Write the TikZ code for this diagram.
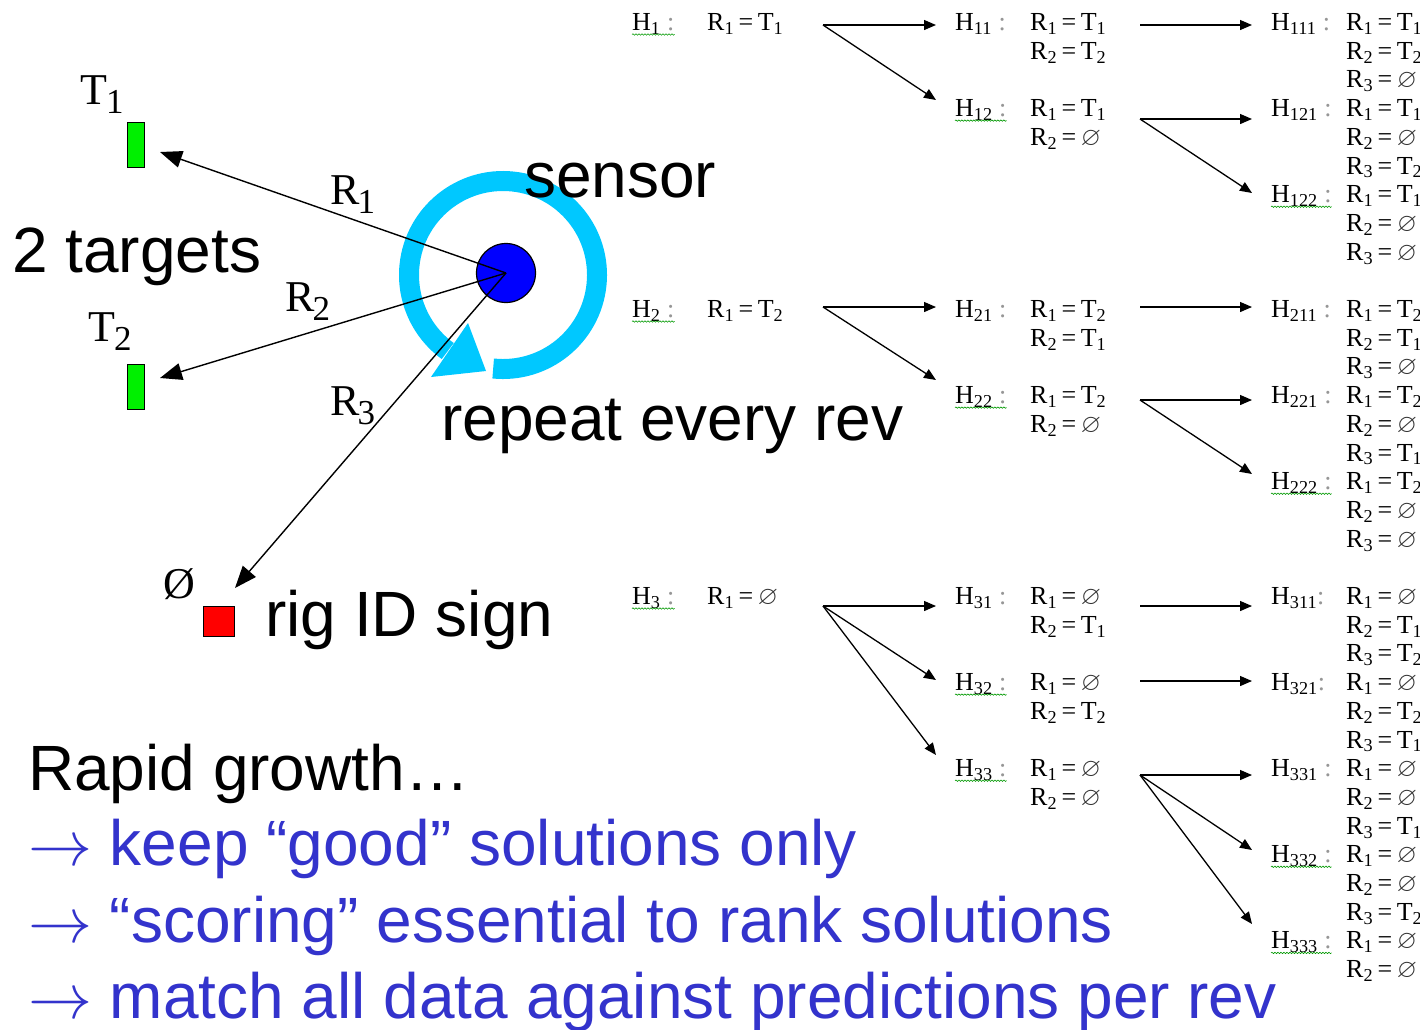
\RequirePackage{fix-cm}
\documentclass[tikz,border=0pt]{standalone}
\usepackage{amssymb}
\usepackage{fontspec}
\setmainfont{Liberation Serif}
\newfontfamily\arialf{Liberation Sans}
\usetikzlibrary{arrows.meta,decorations.pathmorphing}
\definecolor{ringc}{RGB}{0,200,255}
\definecolor{sblue}{RGB}{0,0,255}
\definecolor{tgreen}{RGB}{0,240,0}
\definecolor{btxt}{RGB}{51,51,204}
\definecolor{colgray}{RGB}{150,150,150}
\newcommand{\Rl}[2]{R\textsubscript{#1}\kern4.5pt=\kern4.5pt#2}
\newcommand{\Tl}[1]{T\textsubscript{#1}}
\newcommand{\es}{\textcolor{black!80}{$\varnothing$}}
\newcommand{\Hl}[1]{H\textsubscript{#1}\ \textcolor{colgray}{:}}
\newcommand{\Hn}[1]{H\textsubscript{#1}\textcolor{colgray}{:}}
\newcommand{\bigsub}[1]{\raisebox{-9pt}{\fontsize{35}{38}\selectfont #1}}
\begin{document}
\begin{tikzpicture}[x=1pt,y=-1pt,
  tt/.style={font=\fontsize{26}{28}\selectfont, inner sep=0pt, anchor=base west},
  big/.style={font=\arialf\fontsize{64}{70}\selectfont, inner sep=0pt, anchor=base west},
  lbl/.style={font=\fontsize{44}{48}\selectfont, inner sep=0pt, anchor=base west},
  tarrow/.style={line width=1.3pt, -{Triangle[length=12pt,width=10pt]}},
  barrow/.style={line width=1.4pt, -{Triangle[length=22pt,width=17pt]}},
  squig/.style={decorate, decoration={snake,amplitude=0.7pt,segment length=3pt}, draw=green!60!black, line width=0.6pt},
  tbox/.style={draw=black, line width=1pt, fill=tgreen, minimum width=17pt, minimum height=45pt, inner sep=0pt}
]
\useasboundingbox (0,0) rectangle (1420,1029);
\fill[white] (0,0) rectangle (1420,1029);

% rotating arrow
\coordinate (rc) at (503,275);
\draw[ringc, line width=20pt] ([shift={(96:94)}]rc) arc[start angle=96,end angle=-234,radius=94];
\fill[ringc] (468,323) -- (431,377) -- (486,371) -- cycle;

% sensor and targets
\node[circle, fill=sblue, draw=black, line width=1.2pt, minimum size=59pt, inner sep=0pt] (sensor) at (506,273) {};
\node[tbox] (t1) at (135.5,144.5) {};
\node[tbox] (t2) at (135.5,386.5) {};
\node[draw=black, line width=1pt, fill=red, minimum width=31pt, minimum height=30pt, inner sep=0pt] (rig) at (218.5,621) {};
\coordinate (t1tip) at (160,152);
\coordinate (t2tip) at (160,378);
\coordinate (rigtip) at (235,588);
\draw[barrow] (sensor.center) -- (t1tip);
\draw[barrow] (sensor.center) -- (t2tip);
\draw[barrow] (sensor.center) -- (rigtip);

% left labels
\node[lbl] (lt1) at (80,104) {T\kern-1pt\bigsub{1}};
\node[lbl] (lt2) at (88,341) {T\kern-1pt\bigsub{2}};
\node[lbl] (lr1) at (330,204) {R\kern-2pt\bigsub{1}};
\node[lbl] (lr2) at (285,311) {R\kern-2pt\bigsub{2}};
\node[lbl] (lr3) at (330,415) {R\kern-2pt\bigsub{3}};
\node[lbl] (lnull) at (163,598) {Ø};

% big texts
\node[big] (sensorlbl) at (524,197) {sensor};
\node[big] (targets) at (12,272) {2 targets};
\node[big] (repeat) at (441,440) {repeat every rev};
\node[big] (riglbl) at (265,636) {rig ID sign};
\node[big] (rapid) at (28,790) {Rapid growth…};
\node[big,text=btxt] (b1) at (28,865) {$\rightarrow$ keep “good” solutions only};
\node[big,text=btxt] (b2) at (28,942) {$\rightarrow$ “scoring” essential to rank solutions};
\node[big,text=btxt] (b3) at (28,1018) {$\rightarrow$ match all data against predictions per rev};

% level 1
\node[tt] (h1) at (632,30.5) {\Hl{1}};
\node[tt] (h1r) at (707,30.5) {\Rl{1}{\Tl{1}}};
\node[tt] (h2) at (632,317.5) {\Hl{2}};
\node[tt] (h2r) at (707,317.5) {\Rl{1}{\Tl{2}}};
\node[tt] (h3) at (632,604.5) {\Hl{3}};
\node[tt] (h3r) at (707,604.5) {\Rl{1}{\es}};

% level 2
\node[tt] (h11) at (955,30.5) {\Hl{11}};
\node[tt] (h11a) at (1030,30.5) {\Rl{1}{\Tl{1}}};
\node[tt] (h11b) at (1030,59.2) {\Rl{2}{\Tl{2}}};
\node[tt] (h12) at (955,116.6) {\Hl{12}};
\node[tt] (h12a) at (1030,116.6) {\Rl{1}{\Tl{1}}};
\node[tt] (h12b) at (1030,145.3) {\Rl{2}{\es}};
\node[tt] (h21) at (955,317.5) {\Hl{21}};
\node[tt] (h21a) at (1030,317.5) {\Rl{1}{\Tl{2}}};
\node[tt] (h21b) at (1030,346.2) {\Rl{2}{\Tl{1}}};
\node[tt] (h22) at (955,403.6) {\Hl{22}};
\node[tt] (h22a) at (1030,403.6) {\Rl{1}{\Tl{2}}};
\node[tt] (h22b) at (1030,432.3) {\Rl{2}{\es}};
\node[tt] (h31) at (955,604.5) {\Hl{31}};
\node[tt] (h31a) at (1030,604.5) {\Rl{1}{\es}};
\node[tt] (h31b) at (1030,633.2) {\Rl{2}{\Tl{1}}};
\node[tt] (h32) at (955,690.6) {\Hl{32}};
\node[tt] (h32a) at (1030,690.6) {\Rl{1}{\es}};
\node[tt] (h32b) at (1030,719.3) {\Rl{2}{\Tl{2}}};
\node[tt] (h33) at (955,776.7) {\Hl{33}};
\node[tt] (h33a) at (1030,776.7) {\Rl{1}{\es}};
\node[tt] (h33b) at (1030,805.4) {\Rl{2}{\es}};

% level 3 labels
\node[tt] (h111) at (1271,30.5) {\Hl{111}};
\node[tt] (h121) at (1271,116.6) {\Hl{121}};
\node[tt] (h122) at (1271,202.7) {\Hl{122}};
\node[tt] (h211) at (1271,317.5) {\Hl{211}};
\node[tt] (h221) at (1271,403.6) {\Hl{221}};
\node[tt] (h222) at (1271,489.7) {\Hl{222}};
\node[tt] (h311) at (1271,604.5) {\Hn{311}};
\node[tt] (h321) at (1271,690.6) {\Hn{321}};
\node[tt] (h331) at (1271,776.7) {\Hl{331}};
\node[tt] (h332) at (1271,862.8) {\Hl{332}};
\node[tt] (h333) at (1271,948.9) {\Hl{333}};

% level 3 assignments
\foreach \txt [count=\k from 0] in {{\Rl{1}{\Tl{1}}},{\Rl{2}{\Tl{2}}},{\Rl{3}{\es}},{\Rl{1}{\Tl{1}}},{\Rl{2}{\es}},{\Rl{3}{\Tl{2}}},{\Rl{1}{\Tl{1}}},{\Rl{2}{\es}},{\Rl{3}{\es}}}
  \node[tt] (ra\k) at (1346,{30.5+28.7*\k}) {\txt};
\foreach \txt [count=\k from 0] in {{\Rl{1}{\Tl{2}}},{\Rl{2}{\Tl{1}}},{\Rl{3}{\es}},{\Rl{1}{\Tl{2}}},{\Rl{2}{\es}},{\Rl{3}{\Tl{1}}},{\Rl{1}{\Tl{2}}},{\Rl{2}{\es}},{\Rl{3}{\es}}}
  \node[tt] (rb\k) at (1346,{317.5+28.7*\k}) {\txt};
\foreach \txt [count=\k from 0] in {{\Rl{1}{\es}},{\Rl{2}{\Tl{1}}},{\Rl{3}{\Tl{2}}},{\Rl{1}{\es}},{\Rl{2}{\Tl{2}}},{\Rl{3}{\Tl{1}}},{\Rl{1}{\es}},{\Rl{2}{\es}},{\Rl{3}{\Tl{1}}},{\Rl{1}{\es}},{\Rl{2}{\es}},{\Rl{3}{\Tl{2}}},{\Rl{1}{\es}},{\Rl{2}{\es}}}
  \node[tt] (rc\k) at (1346,{604.5+28.7*\k}) {\txt};

% spell-check squiggles
\foreach \n in {h1,h2,h3,h12,h22,h32,h33,h122,h222,h332,h333}
  \draw[squig] ([yshift=-4pt]\n.base west) -- ([yshift=-4pt]\n.base east);

% tree arrows
\foreach \sx/\sy/\ex/\ey [count=\i] in {823/25/936/25, 823/25/936/100,
  823/307/936/307, 823/307/936/380,
  823/606/936/606, 823/606/936/680, 823/606/936/755,
  1140/25/1252/25, 1140/119/1252/119, 1140/119/1252/193,
  1140/307/1252/307, 1140/400/1252/400, 1140/400/1252/474,
  1140/606/1252/606, 1140/681/1252/681,
  1140/775/1252/775, 1140/775/1252/850, 1140/775/1252/924} {
  \coordinate (s\i) at (\sx,\sy);
  \coordinate (e\i) at (\ex,\ey);
  \draw[tarrow] (s\i) -- (e\i);
}
\end{tikzpicture}
\end{document}
